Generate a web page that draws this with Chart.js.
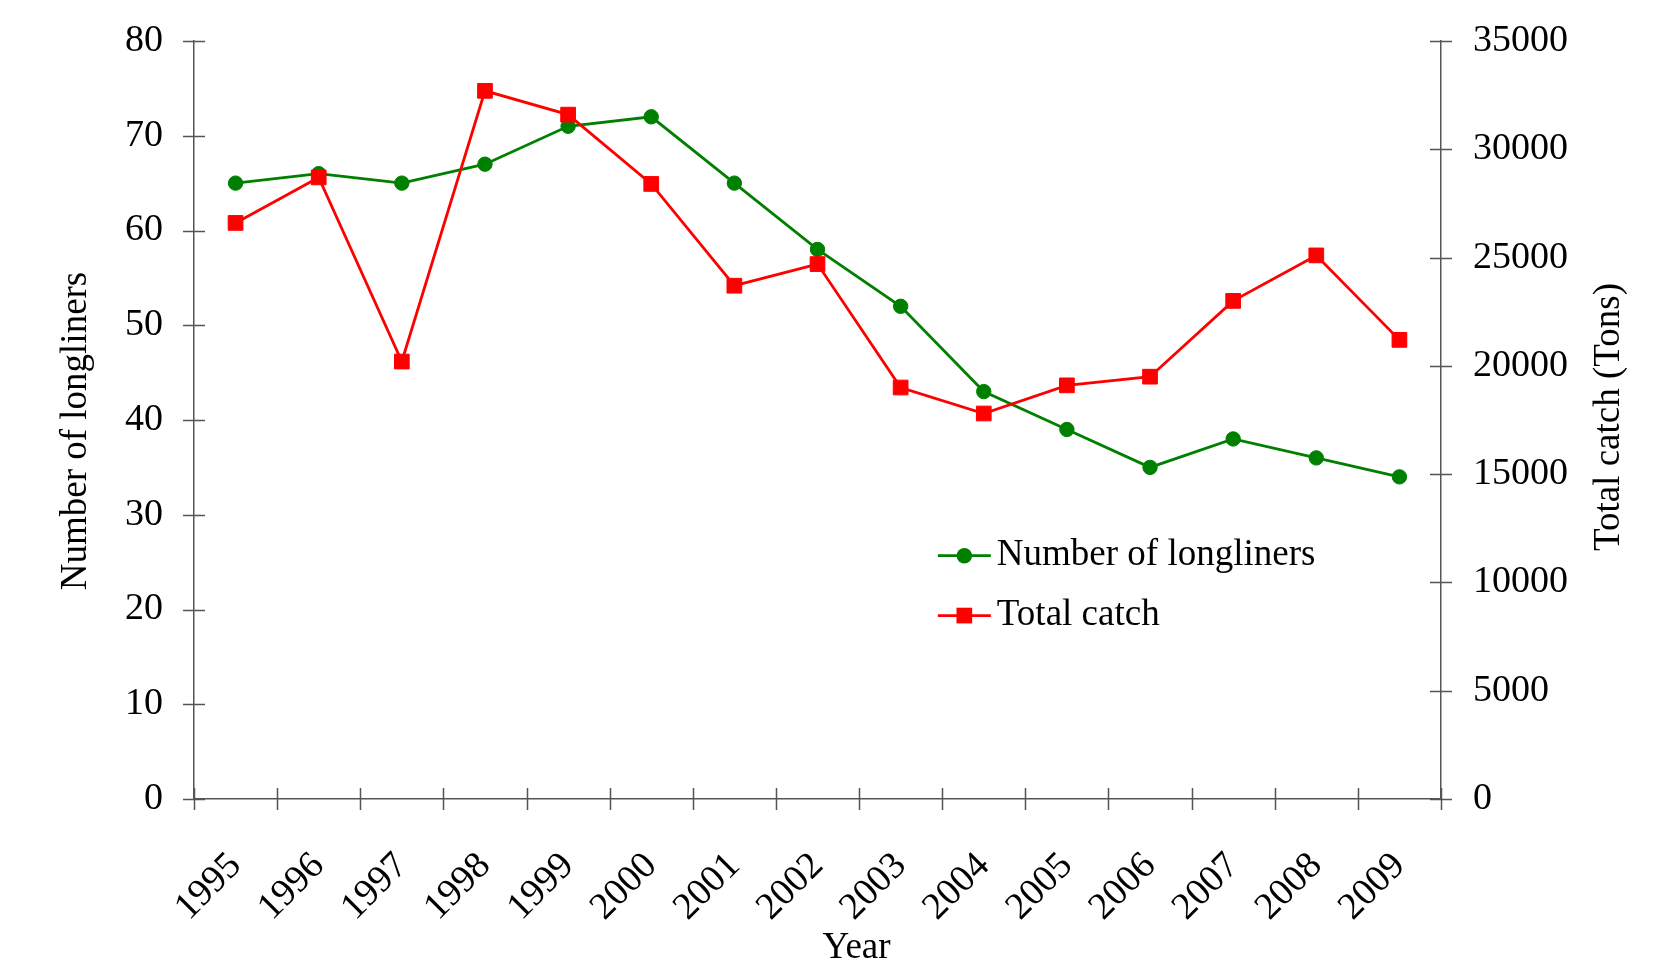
<!DOCTYPE html>
<html>
<head>
<meta charset="utf-8">
<title>Longliners and total catch, 1995–2009</title>
<script src="https://cdn.jsdelivr.net/npm/chart.js@4/dist/chart.umd.min.js"></script>
<style>
  html, body { margin: 0; padding: 0; background: #ffffff; }
  #wrap { width: 1664px; height: 960px; position: relative; }
  canvas { display: block; }
</style>
</head>
<body>
<div id="wrap"><canvas id="chart" width="1664" height="960"></canvas></div>
<script>
// ---- data ----
const years = ['1995', '1996', '1997', '1998', '1999', '2000', '2001', '2002',
               '2003', '2004', '2005', '2006', '2007', '2008', '2009'];
const longliners = [65, 66, 65, 67, 71, 72, 65, 58, 52, 43, 39, 35, 38, 36, 34];
const totalCatch = [26600, 28700, 20200, 32700, 31600, 28400, 23700, 24700,
                    19000, 17800, 19100, 19500, 23000, 25100, 21200];

const seriesNames = ['Number of longliners', 'Total catch'];
const xTitle = 'Year';
const leftTitle = 'Number of longliners';
const rightTitle = 'Total catch (Tons)';

// ---- styling ----
const SERIF = "'Liberation Serif', 'Times New Roman', Times, serif";
const AXIS_COLOR = '#555555';
const GREEN = '#008000';
const RED = '#ff0000';
const TICK_HALF = 11;

// tick marks that cross the axis lines (inside and outside)
const crossTicks = {
  id: 'crossTicks',
  beforeDatasetsDraw(chart) {
    const { ctx, chartArea, scales } = chart;
    ctx.save();
    ctx.strokeStyle = AXIS_COLOR;
    ctx.lineWidth = 1.5;
    ctx.beginPath();
    for (const [id, ax] of [['y', chartArea.left], ['y1', chartArea.right]]) {
      const s = scales[id];
      s.ticks.forEach(t => {
        const py = Math.round(s.getPixelForValue(t.value)) + 0.5;
        ctx.moveTo(ax - TICK_HALF, py);
        ctx.lineTo(ax + TICK_HALF, py);
      });
    }
    const xs = scales.x;
    for (let i = 0; i <= years.length; i++) {
      const px = Math.round(xs.getPixelForValue(i - 0.5)) + 0.5;
      ctx.moveTo(px, chartArea.bottom - TICK_HALF);
      ctx.lineTo(px, chartArea.bottom + TICK_HALF);
    }
    ctx.stroke();
    ctx.restore();
  }
};

// axis titles
const axisTitles = {
  id: 'axisTitles',
  afterDraw(chart) {
    const { ctx, chartArea } = chart;
    const midY = (chartArea.top + chartArea.bottom) / 2;
    const midX = (chartArea.left + chartArea.right) / 2;
    ctx.save();
    ctx.fillStyle = '#000';
    ctx.font = '37px ' + SERIF;
    ctx.textAlign = 'center';
    ctx.textBaseline = 'middle';
    ctx.fillText(xTitle, midX + 39, chart.height - 12);

    ctx.save();
    ctx.translate(76, midY + 11);
    ctx.rotate(-Math.PI / 2);
    ctx.fillText(leftTitle, 0, 0);
    ctx.restore();

    ctx.save();
    ctx.translate(chart.width - 55, midY - 3);
    ctx.rotate(-Math.PI / 2);
    ctx.fillText(rightTitle, 0, 0);
    ctx.restore();
    ctx.restore();
  }
};

// legend drawn inside the plot area: line sample with marker, then label
const innerLegend = {
  id: 'innerLegend',
  afterDraw(chart) {
    const { ctx, chartArea } = chart;
    const w = chartArea.right - chartArea.left;
    const h = chartArea.bottom - chartArea.top;
    const x0 = chartArea.left + 0.5965 * w;
    const rows = [chartArea.top + 0.679 * h, chartArea.top + 0.758 * h];
    const sampleLen = 53;
    ctx.save();
    chart.data.datasets.forEach((ds, i) => {
      const y = rows[i];
      ctx.strokeStyle = ds.borderColor;
      ctx.lineWidth = ds.borderWidth;
      ctx.beginPath();
      ctx.moveTo(x0, y);
      ctx.lineTo(x0 + sampleLen, y);
      ctx.stroke();
      ctx.fillStyle = ds.pointBackgroundColor;
      const cx = x0 + sampleLen / 2;
      if (ds.pointStyle === 'rect') {
        const half = ds.pointRadius * Math.SQRT1_2 + 0.5;
        ctx.fillRect(cx - half, y - half, half * 2, half * 2);
      } else {
        ctx.beginPath();
        ctx.arc(cx, y, ds.pointRadius + 0.5, 0, Math.PI * 2);
        ctx.fill();
      }
      ctx.fillStyle = '#000';
      ctx.font = '37px ' + SERIF;
      ctx.textAlign = 'left';
      ctx.textBaseline = 'middle';
      ctx.fillText(ds.label, x0 + sampleLen + 6, y);
    });
    ctx.restore();
  }
};

const tickFont = { family: SERIF, size: 38 };
const plainNumber = v => String(v);

// fixed axis box sizes; label overflow is not allowed to push the plot area
function fixVertical(width) {
  return s => { s.width = width; s.paddingTop = 0; s.paddingBottom = 0; };
}

new Chart(document.getElementById('chart'), {
  type: 'line',
  data: {
    labels: years,
    datasets: [
      {
        label: seriesNames[0],
        data: longliners,
        yAxisID: 'y',
        borderColor: GREEN,
        backgroundColor: GREEN,
        pointBackgroundColor: GREEN,
        pointBorderColor: GREEN,
        borderWidth: 2.8,
        pointRadius: 7.2,
        pointBorderWidth: 1,
        pointStyle: 'circle',
        tension: 0,
        order: 2
      },
      {
        label: seriesNames[1],
        data: totalCatch,
        yAxisID: 'y1',
        borderColor: RED,
        backgroundColor: RED,
        pointBackgroundColor: RED,
        pointBorderColor: RED,
        borderWidth: 2.8,
        pointRadius: 10.4,
        pointBorderWidth: 1,
        pointStyle: 'rect',
        tension: 0,
        order: 1
      }
    ]
  },
  options: {
    responsive: false,
    animation: false,
    devicePixelRatio: 1,
    layout: { padding: { top: 41, right: 0, bottom: 0, left: 0 } },
    plugins: {
      legend: { display: false },
      tooltip: { enabled: false }
    },
    scales: {
      x: {
        type: 'category',
        offset: true,
        grid: { display: false, offset: true },
        border: { display: true, color: AXIS_COLOR, width: 1.5 },
        ticks: {
          color: '#000',
          font: tickFont,
          autoSkip: false,
          minRotation: 45,
          maxRotation: 45,
          padding: 37
        },
        afterFit(s) { s.height = 161; s.paddingLeft = 0; s.paddingRight = 0; }
      },
      y: {
        position: 'left',
        min: 0,
        max: 80,
        grid: { display: false },
        border: { display: true, color: AXIS_COLOR, width: 1.5 },
        ticks: { stepSize: 10, color: '#000', font: tickFont, padding: 23, callback: plainNumber },
        afterFit: fixVertical(194)
      },
      y1: {
        position: 'right',
        min: 0,
        max: 35000,
        grid: { display: false },
        border: { display: true, color: AXIS_COLOR, width: 1.5 },
        ticks: { stepSize: 5000, color: '#000', font: tickFont, padding: 24, callback: plainNumber },
        afterFit: fixVertical(223)
      }
    }
  },
  plugins: [crossTicks, axisTitles, innerLegend]
});
</script>
</body>
</html>
